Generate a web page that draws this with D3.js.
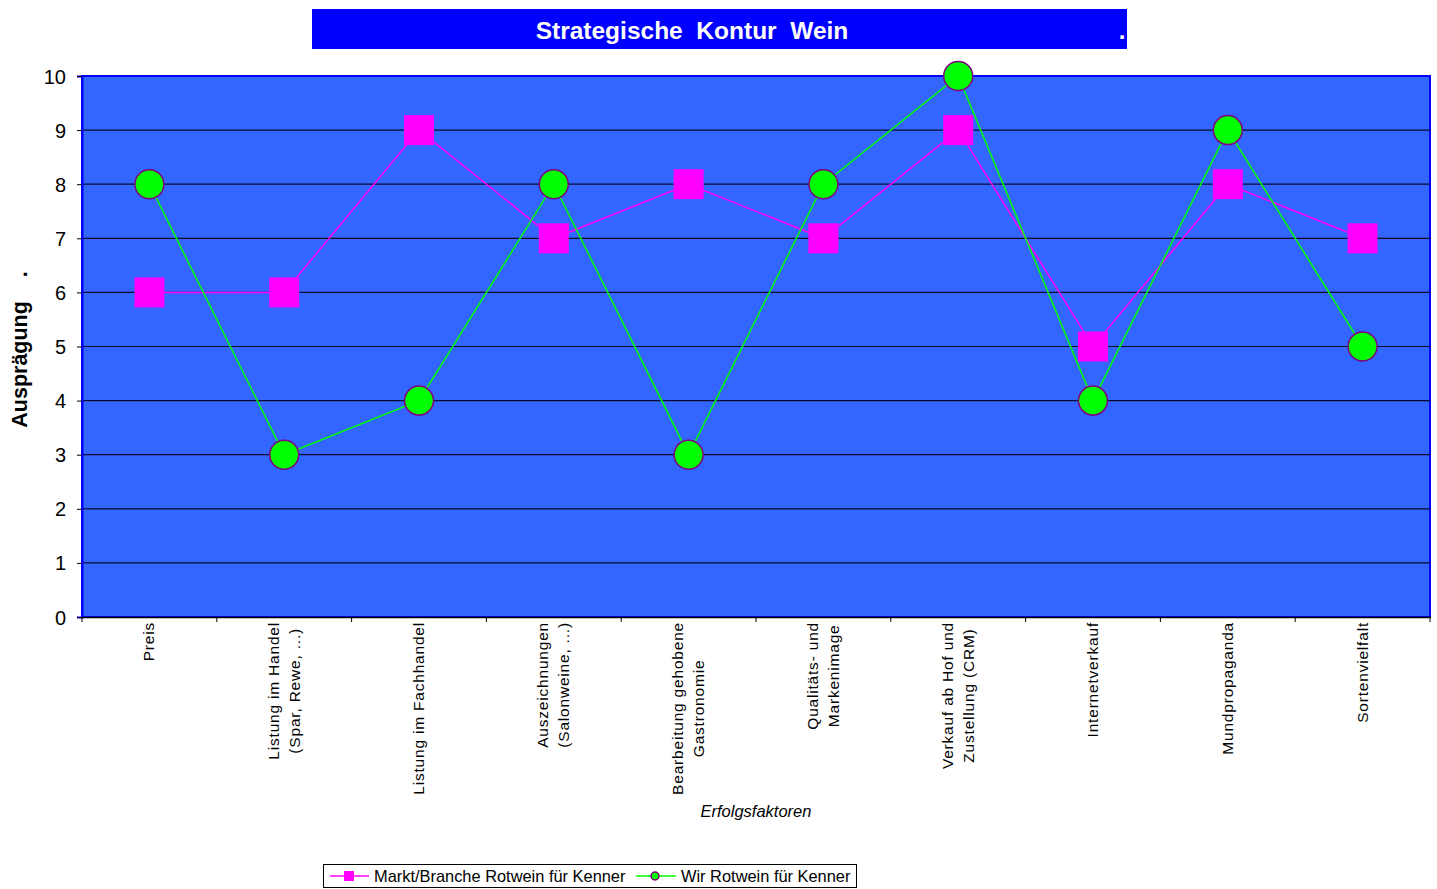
<!DOCTYPE html>
<html><head><meta charset="utf-8">
<script src="https://cdn.jsdelivr.net/npm/d3@7"></script>
<style>
body{margin:0;background:#fff;}
svg{display:block;font-family:"Liberation Sans",Arial,sans-serif;}
.pre{white-space:pre;}
</style></head>
<body>
<svg id="chart" width="1437" height="889"></svg>
<script>
const categories = [
  ["Preis"],
  ["Listung im Handel","(Spar, Rewe, ...)"],
  ["Listung im Fachhandel"],
  ["Auszeichnungen","(Salonweine, ...)"],
  ["Bearbeitung gehobene","Gastronomie"],
  ["Qualitäts- und","Markenimage"],
  ["Verkauf ab Hof und","Zustellung (CRM)"],
  ["Internetverkauf"],
  ["Mundpropaganda"],
  ["Sortenvielfalt"]
];
const marktValues = [6, 6, 9, 7, 8, 7, 9, 5, 8, 7];
const wirValues   = [8, 3, 4, 8, 3, 8, 10, 4, 9, 5];
const yTicks = [0,1,2,3,4,5,6,7,8,9,10];
const seriesNames = ["Markt/Branche Rotwein für Kenner", "Wir Rotwein für Kenner"];
const titleText = "Strategische  Kontur  Wein";

const svg = d3.select("#chart");
const L = 82, R = 1430, T = 76, B = 617;

// Title box
svg.append("rect").attr("x",312).attr("y",9).attr("width",815).attr("height",40).attr("fill","#0000FF");
svg.append("text").attr("class","pre").attr("x",692).attr("y",39).attr("text-anchor","middle")
  .attr("fill","#fff").attr("font-weight","bold").attr("font-size",24.5).text(titleText);
svg.append("text").attr("x",1122).attr("y",39).attr("text-anchor","middle")
  .attr("fill","#fff").attr("font-weight","bold").attr("font-size",24).text(".");

const x = d3.scaleBand().domain(d3.range(categories.length)).range([L,R]);
const y = d3.scaleLinear().domain([0,10]).range([B,T]);

// plot area
svg.append("rect").attr("x",L).attr("y",T).attr("width",R-L).attr("height",B-T)
  .attr("fill","#3366FF").attr("stroke","#0000FF").attr("stroke-width",2);

// gridlines
svg.append("g").selectAll("line").data(yTicks.filter(d=>d>0 && d<10)).join("line")
  .attr("x1",L).attr("x2",R).attr("y1",d=>y(d)).attr("y2",d=>y(d))
  .attr("stroke","#0a0a30").attr("stroke-width",1.2);

// y axis
const yAxis = svg.append("g").attr("transform",`translate(${L},0)`)
  .call(d3.axisLeft(y).tickValues(yTicks).tickSize(5).tickPadding(11));
yAxis.select(".domain").attr("stroke","#0000FF").attr("stroke-width",2);
yAxis.selectAll(".tick line").attr("stroke","#000");
yAxis.selectAll(".tick text").attr("font-size",20).attr("fill","#000")
  .attr("font-family","Liberation Sans, Arial, sans-serif").attr("dy","0.35em");

// x axis
const xAxis = svg.append("g").attr("transform",`translate(0,${B})`)
  .call(d3.axisBottom(x).tickSize(0).tickFormat(""));
xAxis.select(".domain").attr("stroke","#000").attr("stroke-width",1.5);
svg.append("g").selectAll("line").data(d3.range(categories.length+1)).join("line")
  .attr("x1",d=>L + d*x.step()).attr("x2",d=>L + d*x.step())
  .attr("y1",B).attr("y2",B+5).attr("stroke","#000").attr("stroke-width",1);

// x labels
const lab = svg.append("g");
categories.forEach((lines,i)=>{
  const cx = x(i) + x.bandwidth()/2;
  const g = lab.append("g");
  const n = lines.length, lh = 21;
  const texts = lines.map((t,j)=> g.append("text").text(t)
      .attr("font-size",15.5).attr("letter-spacing","0.8px")
      .attr("text-anchor","middle").attr("fill","#000"));
  const maxLen = d3.max(texts, t=>t.node().getComputedTextLength());
  const cy = 622 + maxLen/2;
  texts.forEach((t,j)=>{
    const off = (j - (n-1)/2)*lh;
    t.attr("transform",`translate(${cx+off+5},${cy}) rotate(-90)`);
  });
});

// axis titles
svg.append("text").attr("class","pre").attr("transform",`translate(27,${(T+B)/2+3}) rotate(-90)`)
  .attr("text-anchor","middle").attr("font-weight","bold").attr("font-size",21.5)
  .text("Ausprägung    .");
svg.append("text").attr("x",(L+R)/2).attr("y",817).attr("text-anchor","middle")
  .attr("font-style","italic").attr("font-size",16.5).text("Erfolgsfaktoren");

// series
const line = d3.line().x((d,i)=>x(i)+x.bandwidth()/2).y(d=>y(d));
svg.append("path").datum(marktValues).attr("d",line).attr("fill","none")
  .attr("stroke","#FF00FF").attr("stroke-width",1.5);
svg.append("g").selectAll("rect").data(marktValues).join("rect")
  .attr("x",(d,i)=>x(i)+x.bandwidth()/2-15).attr("y",d=>y(d)-15)
  .attr("width",30).attr("height",30).attr("fill","#FF00FF");
svg.append("path").datum(wirValues).attr("d",line).attr("fill","none")
  .attr("stroke","#00FF00").attr("stroke-width",1.5);
svg.append("g").selectAll("circle").data(wirValues).join("circle")
  .attr("cx",(d,i)=>x(i)+x.bandwidth()/2).attr("cy",d=>y(d)).attr("r",14.5)
  .attr("fill","#00FF00").attr("stroke","#800080").attr("stroke-width",1.5);

// legend
const lg = svg.append("g");
lg.append("rect").attr("x",323.5).attr("y",864.5).attr("width",533).attr("height",23)
  .attr("fill","#fff").attr("stroke","#000").attr("stroke-width",1);
lg.append("line").attr("x1",330).attr("x2",369).attr("y1",876).attr("y2",876).attr("stroke","#FF00FF").attr("stroke-width",1.5);
lg.append("rect").attr("x",344).attr("y",871).attr("width",10).attr("height",10).attr("fill","#FF00FF");
lg.append("text").attr("x",374).attr("y",881.5).attr("font-size",16.4).text(seriesNames[0]);
lg.append("line").attr("x1",636).attr("x2",676).attr("y1",876).attr("y2",876).attr("stroke","#00FF00").attr("stroke-width",1.5);
lg.append("circle").attr("cx",655).attr("cy",876).attr("r",4).attr("fill","#00FF00").attr("stroke","#800080").attr("stroke-width",1.5);
lg.append("text").attr("x",681).attr("y",881.5).attr("font-size",16.4).text(seriesNames[1]);
</script>
</body></html>
